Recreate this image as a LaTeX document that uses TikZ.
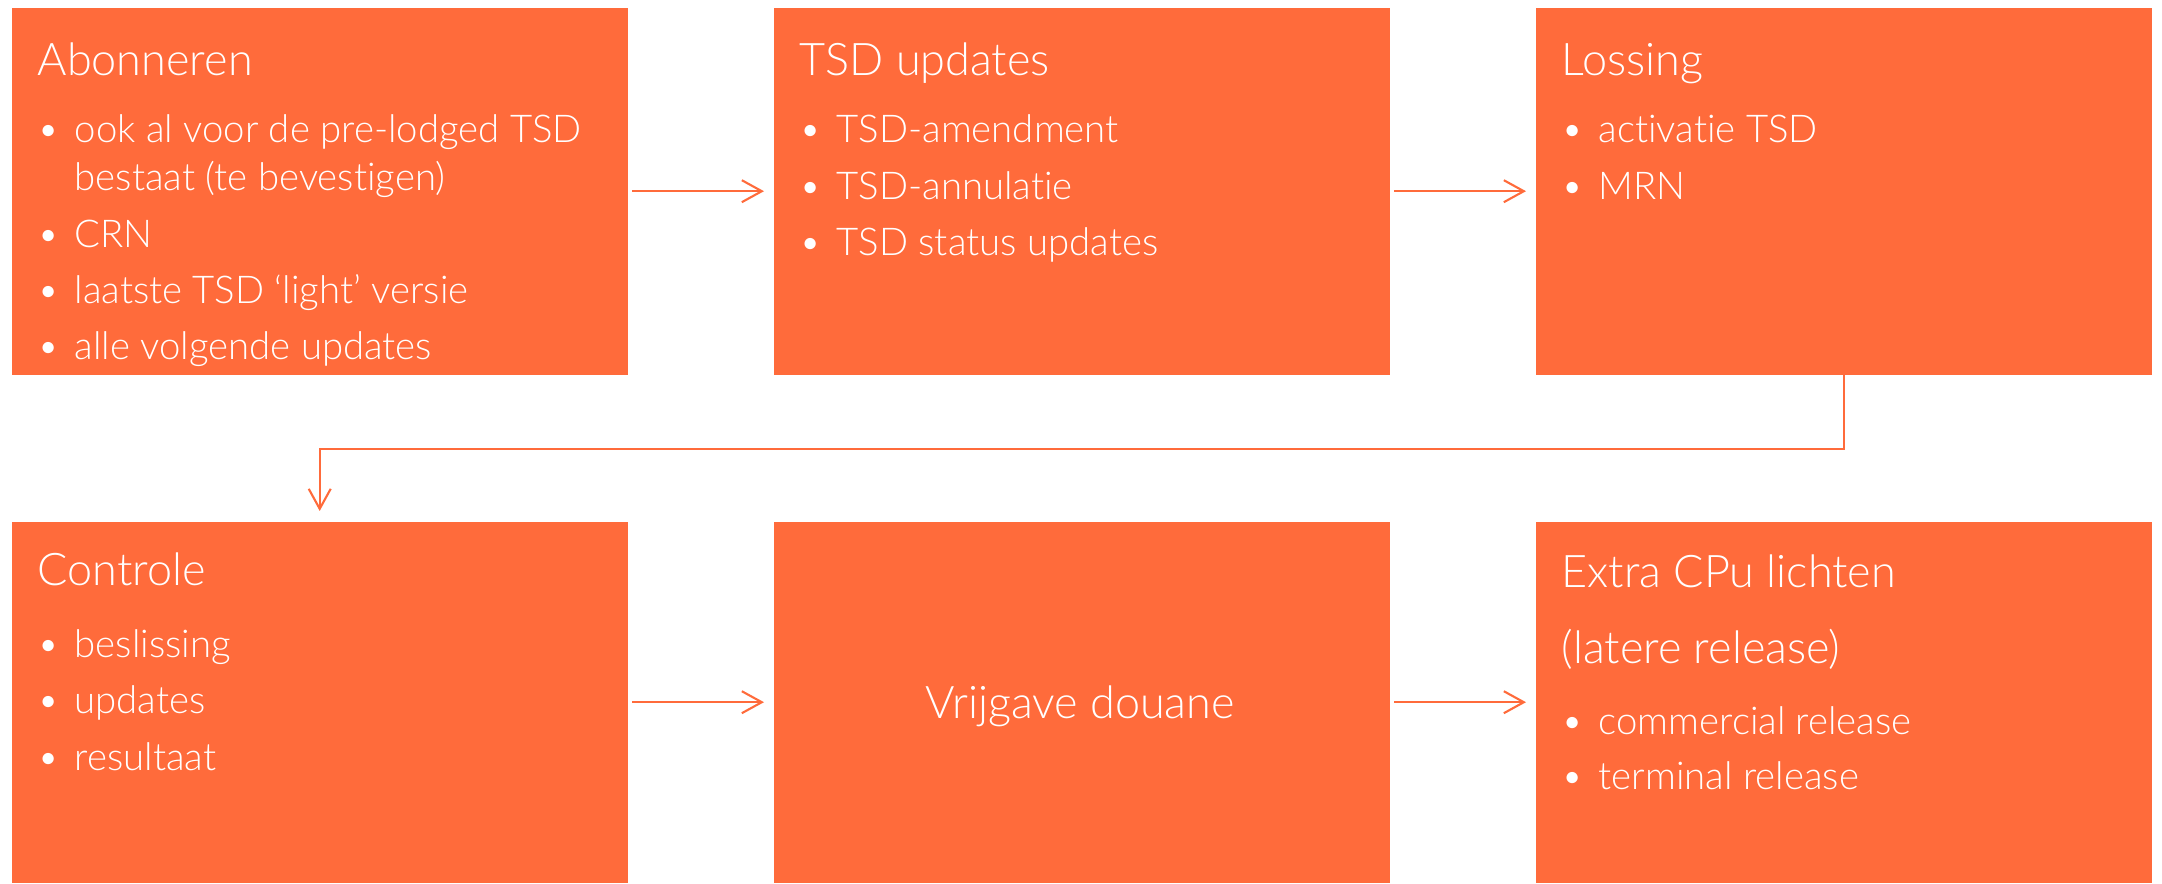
\documentclass[tikz,border=0pt]{standalone}
\usepackage{fontspec}
\setmainfont{Lato Light}[Ligatures={NoCommon,NoDiscretionary,NoContextual}]
\usetikzlibrary{arrows.meta}
\definecolor{oranje}{HTML}{FF6B3B}
\newcommand{\punt}{\makebox[0.37cm][l]{\textbullet}}

\begin{document}
\begin{tikzpicture}[
  blok/.style={fill=oranje, anchor=north west, inner sep=0, minimum width=6.16cm, minimum height=#1},
  blok/.default=3.67cm,
  kop/.style={text=white, anchor=base west, inner sep=0, font=\fontsize{12.8}{15}\selectfont},
  regel/.style={text=white, anchor=base west, inner sep=0, font=\fontsize{10.9}{13}\selectfont},
  pijl/.style={draw=oranje, line width=0.6pt, -{Straight Barb[length=2mm,width=2.2mm]}}]
\useasboundingbox (0,0) rectangle (21.62,-8.84);

\node[blok] (ab) at (0.11,-0.07) {};
\node[blok] (tsd) at (7.73,-0.07) {};
\node[blok] (los) at (15.35,-0.07) {};
\node[blok=3.61cm] (con) at (0.11,-5.21) {};
\node[blok=3.61cm] (vri) at (7.73,-5.21) {};
\node[blok=3.61cm] (ext) at (15.35,-5.21) {};

\node[kop] (abT) at (0.37,-0.76) {Abonneren};
\node[regel] (ab1) at (0.37,-1.43) {\punt ook al voor de pre-lodged TSD};
\node[regel] (ab1b) at (0.74,-1.91) {bestaat (te bevestigen)};
\node[regel] (ab2) at (0.37,-2.48) {\punt CRN};
\node[regel] (ab3) at (0.37,-3.04) {\punt laatste TSD ‘light’ versie};
\node[regel] (ab4) at (0.37,-3.60) {\punt alle volgende updates};

\node[kop] (tsdT) at (7.99,-0.76) {TSD updates};
\foreach \t [count=\i] in {TSD-amendment, TSD-annulatie, TSD status updates}
  \node[regel] (tsd\i) at (7.99,-0.865-0.565*\i) {\punt\t};

\node[kop] (losT) at (15.61,-0.76) {Lossing};
\foreach \t [count=\i] in {activatie TSD, MRN}
  \node[regel] (los\i) at (15.61,-0.865-0.565*\i) {\punt\t};

\node[kop] (conT) at (0.37,-5.86) {Controle};
\foreach \t [count=\i] in {beslissing, updates, resultaat}
  \node[regel] (con\i) at (0.37,-6.005-0.565*\i) {\punt\t};

\node[kop, anchor=base] (vriT) at (10.80,-7.18) {Vrijgave douane};

\node[kop] (extT) at (15.61,-5.87) {Extra CPu lichten};
\node[kop] (extT2) at (15.61,-6.63) {(latere release)};
\node[regel] (ext1) at (15.61,-7.34) {\punt commercial release};
\node[regel] (ext2) at (15.61,-7.89) {\punt terminal release};

\draw[pijl, shorten <=0.04cm, shorten >=0.09cm] (ab) -- (tsd);
\draw[pijl, shorten <=0.04cm, shorten >=0.09cm] (tsd) -- (los);
\draw[pijl, shorten <=0.04cm, shorten >=0.09cm] (con) -- (vri);
\draw[pijl, shorten <=0.04cm, shorten >=0.09cm] (vri) -- (ext);
\draw[pijl, shorten >=0.1cm] (los.south) -- ++(0,-0.74) -| (con.north);
\end{tikzpicture}
\end{document}
